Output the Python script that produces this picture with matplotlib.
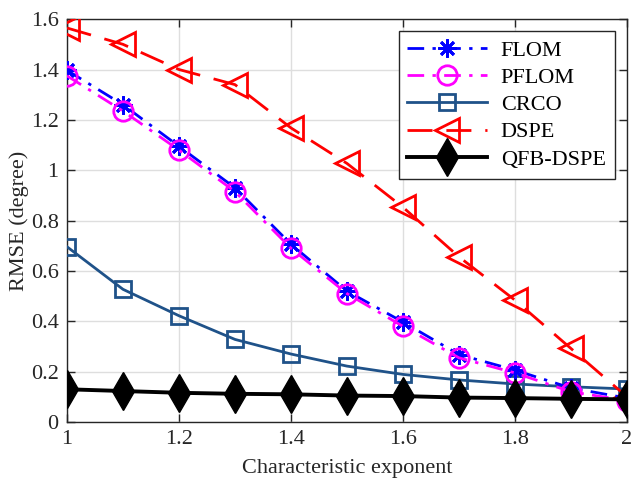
import matplotlib
matplotlib.use("Agg")
import matplotlib.pyplot as plt

plt.rcParams['font.family'] = ['Liberation Serif', 'DejaVu Serif']
plt.rcParams['mathtext.fontset'] = 'stix'

alpha = [1.0, 1.1, 1.2, 1.3, 1.4, 1.5, 1.6, 1.7, 1.8, 1.9, 2.0]
flom = [1.397, 1.26, 1.095, 0.93, 0.706, 0.52, 0.397, 0.268, 0.206, 0.135, 0.095]
pflom = [1.375, 1.235, 1.08, 0.915, 0.69, 0.51, 0.38, 0.255, 0.195, 0.12, 0.085]
crco = [0.696, 0.527, 0.422, 0.328, 0.27, 0.222, 0.189, 0.167, 0.151, 0.14, 0.131]
dspe = [1.565, 1.50, 1.40, 1.34, 1.168, 1.027, 0.853, 0.656, 0.484, 0.292, 0.10]
qfb = [0.13, 0.123, 0.116, 0.112, 0.11, 0.105, 0.103, 0.097, 0.095, 0.092, 0.09]

xticks = [1, 1.2, 1.4, 1.6, 1.8, 2]
xticklabels = ['1', '1.2', '1.4', '1.6', '1.8', '2']
yticks = [0, 0.2, 0.4, 0.6, 0.8, 1.0, 1.2, 1.4, 1.6]
yticklabels = ['0', '0.2', '0.4', '0.6', '0.8', '1', '1.2', '1.4', '1.6']

FS = 16

fig = plt.figure(figsize=(6.32, 4.79), dpi=100)
ax = fig.add_axes([0.106, 0.119, 0.886, 0.841])

ax.plot(alpha, flom, color='#0000ff', lw=2, dashes=(6, 3, 1.2, 3),
        marker=(8, 2, 0), ms=13, mew=2, label='FLOM', zorder=4)
ax.plot(alpha, pflom, color='#ff00ff', lw=2, dashes=(6, 3, 1.2, 3),
        marker='o', ms=14, mfc='none', mew=2, label='PFLOM', zorder=4)
ax.plot(alpha, crco, color='#1f5289', lw=2, ls='-',
        marker='s', ms=12, mfc='none', mew=2, label='CRCO', zorder=3)
ax.plot(alpha, dspe, color='#ff0000', lw=2, dashes=(9, 5),
        marker='<', ms=17, mfc='none', mew=2, label='DSPE', zorder=3)
ax.plot(alpha, qfb, color='black', lw=2.8, ls='-',
        marker='d', ms=19, mfc='black', mec='black', mew=1, label='QFB-DSPE', zorder=5)

ax.set_xlim(1, 2)
ax.set_ylim(0, 1.6)
ax.set_xticks(xticks)
ax.set_xticklabels(xticklabels)
ax.set_yticks(yticks)
ax.set_yticklabels(yticklabels)
ax.grid(True, color='#dedede', lw=1)
ax.set_axisbelow(True)
ax.tick_params(direction='in', top=True, right=True, labelsize=FS,
               colors='#262626', length=6, width=1, pad=6)
for s in ax.spines.values():
    s.set_color('#262626')
    s.set_linewidth(1)

ax.set_xlabel('Characteristic exponent', fontsize=FS, color='#262626', labelpad=7)
ax.set_ylabel('RMSE (degree)', fontsize=FS, color='#262626', labelpad=1)

leg = ax.legend(loc='upper right', fontsize=FS, frameon=True, fancybox=False,
                edgecolor='#262626', framealpha=1, handlelength=3.6,
                borderaxespad=0.55, labelspacing=0.3, borderpad=0.4,
                handletextpad=0.6)
leg.get_frame().set_linewidth(1)

fig.savefig('out.png', dpi=100)
